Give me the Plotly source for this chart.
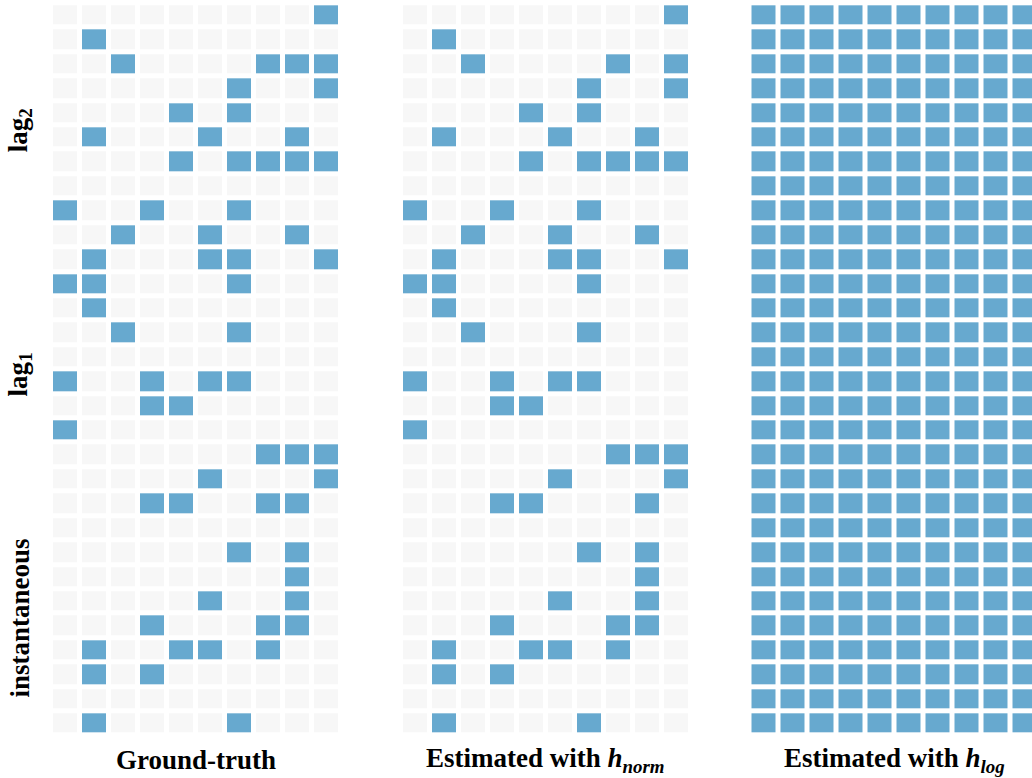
import plotly.graph_objects as go

# Adjacency matrices: 30 rows (10 per lag block) x 10 variables
ground_truth = [
    [0,0,0,0,0,0,0,0,0,1],
    [0,1,0,0,0,0,0,0,0,0],
    [0,0,1,0,0,0,0,1,1,1],
    [0,0,0,0,0,0,1,0,0,1],
    [0,0,0,0,1,0,1,0,0,0],
    [0,1,0,0,0,1,0,0,1,0],
    [0,0,0,0,1,0,1,1,1,1],
    [0,0,0,0,0,0,0,0,0,0],
    [1,0,0,1,0,0,1,0,0,0],
    [0,0,1,0,0,1,0,0,1,0],
    [0,1,0,0,0,1,1,0,0,1],
    [1,1,0,0,0,0,1,0,0,0],
    [0,1,0,0,0,0,0,0,0,0],
    [0,0,1,0,0,0,1,0,0,0],
    [0,0,0,0,0,0,0,0,0,0],
    [1,0,0,1,0,1,1,0,0,0],
    [0,0,0,1,1,0,0,0,0,0],
    [1,0,0,0,0,0,0,0,0,0],
    [0,0,0,0,0,0,0,1,1,1],
    [0,0,0,0,0,1,0,0,0,1],
    [0,0,0,1,1,0,0,1,1,0],
    [0,0,0,0,0,0,0,0,0,0],
    [0,0,0,0,0,0,1,0,1,0],
    [0,0,0,0,0,0,0,0,1,0],
    [0,0,0,0,0,1,0,0,1,0],
    [0,0,0,1,0,0,0,1,1,0],
    [0,1,0,0,1,1,0,1,0,0],
    [0,1,0,1,0,0,0,0,0,0],
    [0,0,0,0,0,0,0,0,0,0],
    [0,1,0,0,0,0,1,0,0,0],
]

estimated_norm = [
    [0,0,0,0,0,0,0,0,0,1],
    [0,1,0,0,0,0,0,0,0,0],
    [0,0,1,0,0,0,0,1,0,1],
    [0,0,0,0,0,0,1,0,0,1],
    [0,0,0,0,1,0,1,0,0,0],
    [0,1,0,0,0,1,0,0,1,0],
    [0,0,0,0,1,0,1,1,1,1],
    [0,0,0,0,0,0,0,0,0,0],
    [1,0,0,1,0,0,1,0,0,0],
    [0,0,1,0,0,1,0,0,1,0],
    [0,1,0,0,0,1,1,0,0,1],
    [1,1,0,0,0,0,1,0,0,0],
    [0,1,0,0,0,0,0,0,0,0],
    [0,0,1,0,0,0,1,0,0,0],
    [0,0,0,0,0,0,0,0,0,0],
    [1,0,0,1,0,1,1,0,0,0],
    [0,0,0,1,1,0,0,0,0,0],
    [1,0,0,0,0,0,0,0,0,0],
    [0,0,0,0,0,0,0,1,1,1],
    [0,0,0,0,0,1,0,0,0,1],
    [0,0,0,1,1,0,0,0,1,0],
    [0,0,0,0,0,0,0,0,0,0],
    [0,0,0,0,0,0,1,0,1,0],
    [0,0,0,0,0,0,0,0,1,0],
    [0,0,0,0,0,1,0,0,1,0],
    [0,0,0,1,0,0,0,1,1,0],
    [0,1,0,0,1,1,0,1,0,0],
    [0,1,0,1,0,0,0,0,0,0],
    [0,0,0,0,0,0,0,0,0,0],
    [0,1,0,0,0,0,1,0,0,0],
]

estimated_log = [[1] * 10 for _ in range(30)]

panel_titles = [
    "Ground-truth",
    "Estimated with <i>h<sub>norm</sub></i>",
    "Estimated with <i>h<sub>log</sub></i>",
]
block_labels = ["lag<sub>2</sub>", "lag<sub>1</sub>", "instantaneous"]
block_centers = [4.5, 14.5, 24.5]

W, H = 1032, 778
colorscale = [[0, "#f7f7f7"], [1, "#67a9cf"]]
font_family = "Liberation Serif"

fig = go.Figure()
matrices = [ground_truth, estimated_norm, estimated_log]
for i, z in enumerate(matrices):
    xa = "x" if i == 0 else f"x{i + 1}"
    fig.add_trace(go.Heatmap(
        z=z, x=list(range(10)), y=list(range(30)),
        colorscale=colorscale, zmin=0, zmax=1, showscale=False,
        xgap=5, ygap=5, xaxis=xa, yaxis="y", hoverinfo="skip",
    ))

# Plot-area extents in pixels (the third panel runs off the right edge)
x_areas = [(51, 341), (401, 690), (749.5, 1032)]
y_top, y_bot = 3.3, 735.7
cell_w = 29.0

axis_common = dict(showgrid=False, zeroline=False, showticklabels=False,
                   ticks="", showline=False, fixedrange=True)
layout_axes = {}
for i, (x0, x1) in enumerate(x_areas):
    name = "xaxis" if i == 0 else f"xaxis{i + 1}"
    ncols = (x1 - x0) / cell_w
    layout_axes[name] = dict(domain=[x0 / W, x1 / W], range=[-0.5, -0.5 + ncols],
                             anchor="y", **axis_common)

fig.update_layout(
    width=W, height=H,
    margin=dict(l=0, r=0, t=0, b=0),
    paper_bgcolor="white", plot_bgcolor="white",
    yaxis=dict(domain=[(H - y_bot) / H, (H - y_top) / H], range=[29.5, -0.5],
               **axis_common),
    **layout_axes,
)

# Panel titles below each matrix
title_centers = [196, 545.5, 894]
for cx, t in zip(title_centers, panel_titles):
    fig.add_annotation(text=f"<b>{t}</b>", x=cx / W, y=1 - 760 / H,
                       xref="paper", yref="paper",
                       xanchor="center", yanchor="middle", showarrow=False,
                       font=dict(family=font_family, size=27, color="black"))

# Block labels on the left
for lab, yc in zip(block_labels, block_centers):
    fig.add_annotation(text=f"<b>{lab}</b>", x=20 / W, y=yc + 0.2, xref="paper", yref="y",
                       xanchor="center", yanchor="middle", textangle=-90,
                       showarrow=False,
                       font=dict(family=font_family, size=27, color="black"))

fig.write_html("out.html")
